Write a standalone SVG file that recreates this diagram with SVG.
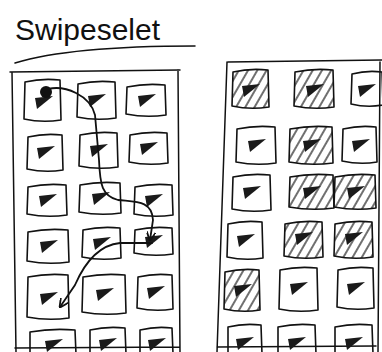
<svg xmlns="http://www.w3.org/2000/svg" xmlns:xlink="http://www.w3.org/1999/xlink" width="382" height="352" viewBox="0 0 382 352">
<style>
.cell{fill:none;stroke:#111;stroke-width:1.6;stroke-linejoin:round;stroke-linecap:round}
.hatched{fill:url(#hatch)}
.tri{fill:#1a1a1a}
.frame{fill:none;stroke:#111;stroke-width:1.5;stroke-linecap:round}
.conn{fill:none;stroke:#111;stroke-width:1.8;stroke-linecap:round}
.title{font-family:"Liberation Sans",Arial,sans-serif;font-size:30px;fill:#111}
</style>
<defs>
<pattern id="hatch" width="8" height="8" patternUnits="userSpaceOnUse" patternTransform="rotate(30)">
<line x1="2" y1="0" x2="2" y2="8" stroke="#222" stroke-width="1.3"/>
</pattern>
<path id="tri" class="tri" d="M-8,-4 L10,-6 L-6,7 Z"/>
<marker id="arr" viewBox="0 0 10 10" refX="9" refY="5" markerWidth="9" markerHeight="9" markerUnits="userSpaceOnUse" orient="auto">
<path d="M0,0 L10,5 L0,10" fill="none" stroke="#111" stroke-width="2"/>
</marker>
</defs>
<rect width="382" height="352" fill="#fff"/>

<g id="title">
<text class="title" x="15" y="40" textLength="145" lengthAdjust="spacingAndGlyphs">Swipeselet</text>
<path class="frame" d="M15,63 Q70,46 195,46" stroke-width="2"/>
</g>

<g id="left-panel">
<path class="frame" d="M10,72 L180,70 M12,72 L16,352 M178,70 L180,352 M15,348 L180,347"/>
</g>

<g id="L11"><path class="cell" d="M25,82 Q42,78 60,80 L61,120 Q42,123 24,119 Z"/><use href="#tri" x="43" y="102"/></g>
<g id="L12"><path class="cell" d="M78,84 Q96,80 115,82 L116,118 Q96,121 77,117 Z"/><use href="#tri" x="96" y="100"/></g>
<g id="L13"><path class="cell" d="M127,87 Q146,83 165,85 L166,115 Q146,118 126,114 Z"/><use href="#tri" x="146" y="100"/></g>
<g id="L21"><path class="cell" d="M28,137 Q45,133 62,135 L63,170 Q45,173 27,169 Z"/><use href="#tri" x="45" y="152"/></g>
<g id="L22"><path class="cell" d="M80,135 Q98,131 117,133 L118,167 Q98,170 79,166 Z"/><use href="#tri" x="98" y="150"/></g>
<g id="L23"><path class="cell" d="M130,135 Q148,131 167,133 L168,163 Q148,166 129,162 Z"/><use href="#tri" x="148" y="148"/></g>
<g id="L31"><path class="cell" d="M28,187 Q47,183 66,185 L67,215 Q47,218 27,214 Z"/><use href="#tri" x="47" y="200"/></g>
<g id="L32"><path class="cell" d="M80,185 Q100,181 120,183 L121,213 Q100,216 79,212 Z"/><use href="#tri" x="100" y="198"/></g>
<g id="L33"><path class="cell" d="M135,187 Q153,183 172,185 L173,215 Q153,218 134,214 Z"/><use href="#tri" x="153" y="200"/></g>
<g id="L41"><path class="cell" d="M28,232 Q48,228 68,230 L69,262 Q48,265 27,261 Z"/><use href="#tri" x="48" y="246"/></g>
<g id="L42"><path class="cell" d="M83,230 Q101,226 120,228 L121,258 Q101,261 82,257 Z"/><use href="#tri" x="101" y="243"/></g>
<g id="L43"><path class="cell" d="M135,230 Q153,226 172,228 L173,254 Q153,257 134,253 Z"/><use href="#tri" x="153" y="241"/></g>
<g id="L51"><path class="cell" d="M28,277 Q48,273 68,275 L69,318 Q48,321 27,317 Z"/><use href="#tri" x="48" y="298"/></g>
<g id="L52"><path class="cell" d="M83,277 Q104,273 125,275 L126,313 Q104,316 82,312 Z"/><use href="#tri" x="104" y="294"/></g>
<g id="L53"><path class="cell" d="M138,277 Q155,273 172,275 L173,309 Q155,312 137,308 Z"/><use href="#tri" x="155" y="292"/></g>
<g id="L61"><path class="cell" d="M30,354 L30,332 Q52,328 75,330 L76,354"/><use href="#tri" x="53" y="345"/></g>
<g id="L62"><path class="cell" d="M90,354 L90,330 Q107,326 125,328 L126,354"/><use href="#tri" x="107" y="344"/></g>
<g id="L63"><path class="cell" d="M140,354 L140,330 Q156,326 172,328 L173,354"/><use href="#tri" x="156" y="344"/></g>

<g id="right-panel">
<path class="frame" d="M228,62 L382,60 M227,62 L217,352 M380,62 L378,352 M217,347 L376,346"/>
</g>

<g id="R11"><path class="cell hatched" d="M233,72 Q250,68 268,70 L269,107 Q250,110 232,106 Z"/><use href="#tri" x="250" y="90"/></g>
<g id="R12"><path class="cell hatched" d="M295,72 Q314,68 333,70 L334,107 Q314,110 294,106 Z"/><use href="#tri" x="314" y="90"/></g>
<g id="R13"><path class="cell" d="M352,74 Q367,70 382,72 L383,105 Q367,108 351,104 Z"/><use href="#tri" x="366" y="90"/></g>
<g id="R21"><path class="cell" d="M237,129 Q256,125 275,127 L276,163 Q256,166 236,162 Z"/><use href="#tri" x="256" y="145"/></g>
<g id="R22"><path class="cell hatched" d="M290,129 Q311,125 332,127 L333,163 Q311,166 289,162 Z"/><use href="#tri" x="311" y="145"/></g>
<g id="R23"><path class="cell" d="M343,129 Q360,125 376,127 L377,162 Q360,165 342,161 Z"/><use href="#tri" x="360" y="145"/></g>
<g id="R31"><path class="cell" d="M233,177 Q251,173 270,175 L271,210 Q251,213 232,209 Z"/><use href="#tri" x="251" y="192"/></g>
<g id="R32"><path class="cell hatched" d="M290,177 Q311,173 333,175 L334,208 Q311,211 289,207 Z"/><use href="#tri" x="311" y="192"/></g>
<g id="R33"><path class="cell hatched" d="M335,177 Q355,173 375,175 L376,208 Q355,211 334,207 Z"/><use href="#tri" x="355" y="192"/></g>
<g id="R41"><path class="cell" d="M228,224 Q245,220 262,222 L263,258 Q245,261 227,257 Z"/><use href="#tri" x="245" y="240"/></g>
<g id="R42"><path class="cell hatched" d="M285,224 Q303,220 322,222 L323,257 Q303,260 284,256 Z"/><use href="#tri" x="303" y="238"/></g>
<g id="R43"><path class="cell hatched" d="M335,224 Q353,220 372,222 L373,257 Q353,260 334,256 Z"/><use href="#tri" x="353" y="238"/></g>
<g id="R51"><path class="cell hatched" d="M225,272 Q242,268 259,270 L260,310 Q242,313 224,309 Z"/><use href="#tri" x="242" y="290"/></g>
<g id="R52"><path class="cell" d="M280,270 Q298,266 317,268 L318,310 Q298,313 279,309 Z"/><use href="#tri" x="298" y="288"/></g>
<g id="R53"><path class="cell" d="M338,270 Q355,266 373,268 L374,308 Q355,311 337,307 Z"/><use href="#tri" x="355" y="288"/></g>
<g id="R61"><path class="cell" d="M228,354 L228,327 Q244,323 261,325 L262,354"/><use href="#tri" x="244" y="343"/></g>
<g id="R62"><path class="cell" d="M278,354 L278,327 Q296,323 315,325 L316,354"/><use href="#tri" x="296" y="343"/></g>
<g id="R63"><path class="cell" d="M335,354 L335,327 Q353,323 372,325 L373,354"/><use href="#tri" x="353" y="343"/></g>

<g id="connectors">
<circle cx="46" cy="92" r="6" fill="#111"/>
<path class="conn" d="M48,89 C65,85 90,95 95,115 L99,160 C100,185 102,196 118,200 C135,202 152,200 153,220 L150,240" marker-end="url(#arr)"/>
<path class="conn" d="M152,243 L120,243 C100,245 85,262 75,285 L60,307" marker-end="url(#arr)"/>
</g>
</svg>
